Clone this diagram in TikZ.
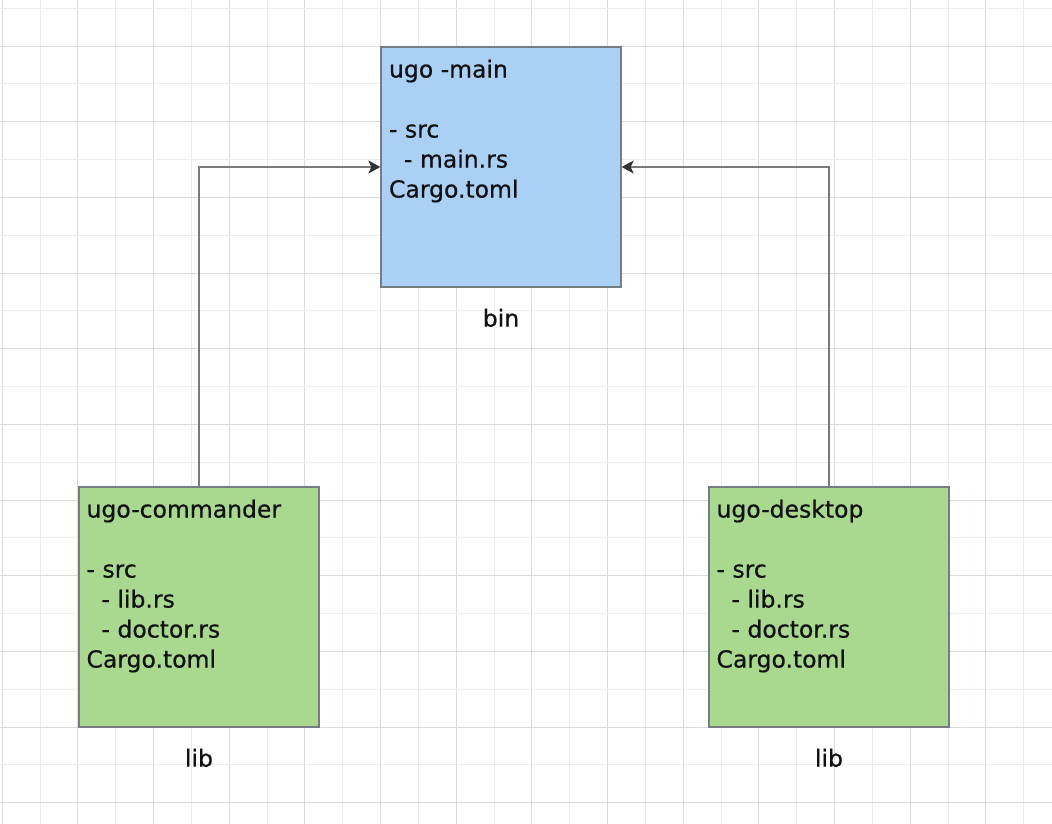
\documentclass[tikz,border=0pt]{standalone}
\usepackage{fontspec}
\setmainfont{DejaVu Sans}[FakeBold=0.6]
\newfontfamily\cratefont{DejaVu Sans}[FakeBold=0.6]
\usetikzlibrary{arrows.meta}
\definecolor{gridDark}{HTML}{DADADA}
\definecolor{gridLight}{HTML}{ECECEC}
\definecolor{binfill}{HTML}{AAD1F5}
\definecolor{libfill}{HTML}{A9D98E}
\definecolor{boxline}{HTML}{767C82}
\definecolor{conline}{HTML}{7A7A7A}
\definecolor{tipcol}{HTML}{333333}
\definecolor{txt}{HTML}{111111}
\tikzset{
  crate/.style={draw=boxline, line width=1.3pt, rectangle, minimum width=240pt, minimum height=240pt, inner sep=0pt},
  cratetext/.style={anchor=north west, inner sep=0pt, align=left, text=txt, font=\cratefont\fontsize{23.5pt}{30pt}\selectfont},
  kindlabel/.style={anchor=base, inner sep=0pt, text=txt, font=\cratefont\fontsize{23.5pt}{30pt}\selectfont},
  dep/.style={draw=conline, line width=1.2pt, -{Stealth[length=12pt, width=13pt, inset=3pt, color=tipcol]}},
  gridA/.style={draw=gridDark, line width=1pt},
  gridB/.style={draw=gridLight, line width=1pt}
}
\begin{document}
\begin{tikzpicture}[x=1pt, y=-1pt]
\useasboundingbox (0,0) rectangle (1052,824);
\fill[white] (0,0) rectangle (1052,824);
% grid
\foreach \i in {0,...,27} {
  \ifodd\i
    \draw[gridB] ({2.3+37.83*\i},0) -- ({2.3+37.83*\i},824);
  \else
    \draw[gridA] ({2.3+37.83*\i},0) -- ({2.3+37.83*\i},824);
  \fi
}
\foreach \j in {0,...,21} {
  \ifodd\j
    \draw[gridA] (0,{8.3+37.83*\j}) -- (1052,{8.3+37.83*\j});
  \else
    \draw[gridB] (0,{8.3+37.83*\j}) -- (1052,{8.3+37.83*\j});
  \fi
}
% boxes
\node[crate, fill=binfill] (main) at (501,167) {};
\node[crate, fill=libfill] (cmd) at (199,607) {};
\node[crate, fill=libfill] (desk) at (829,607) {};
% texts
\node[cratetext] (maintxt) at ([shift={(8.5,10)}]main.north west)
  {\strut ugo -main\\\strut\\- src\\\hspace*{15pt}- main.rs\\Cargo.toml};
\node[cratetext] (cmdtxt) at ([shift={(8,10)}]cmd.north west)
  {\strut ugo-commander\\\strut\\- src\\\hspace*{15pt}- lib.rs\\\hspace*{15pt}- doctor.rs\\Cargo.toml};
\node[cratetext] (desktxt) at ([shift={(8,10)}]desk.north west)
  {\strut ugo-desktop\\\strut\\- src\\\hspace*{15pt}- lib.rs\\\hspace*{15pt}- doctor.rs\\Cargo.toml};
% labels
\node[kindlabel] (binlbl) at ([shift={(0,39)}]main.south) {bin};
\node[kindlabel] (cmdlbl) at ([shift={(0,39)}]cmd.south) {lib};
\node[kindlabel] (desklbl) at ([shift={(0,39)}]desk.south) {lib};
% connectors
\draw[dep] (cmd.north) |- (main.west);
\draw[dep] (desk.north) |- (main.east);
\end{tikzpicture}
\end{document}
